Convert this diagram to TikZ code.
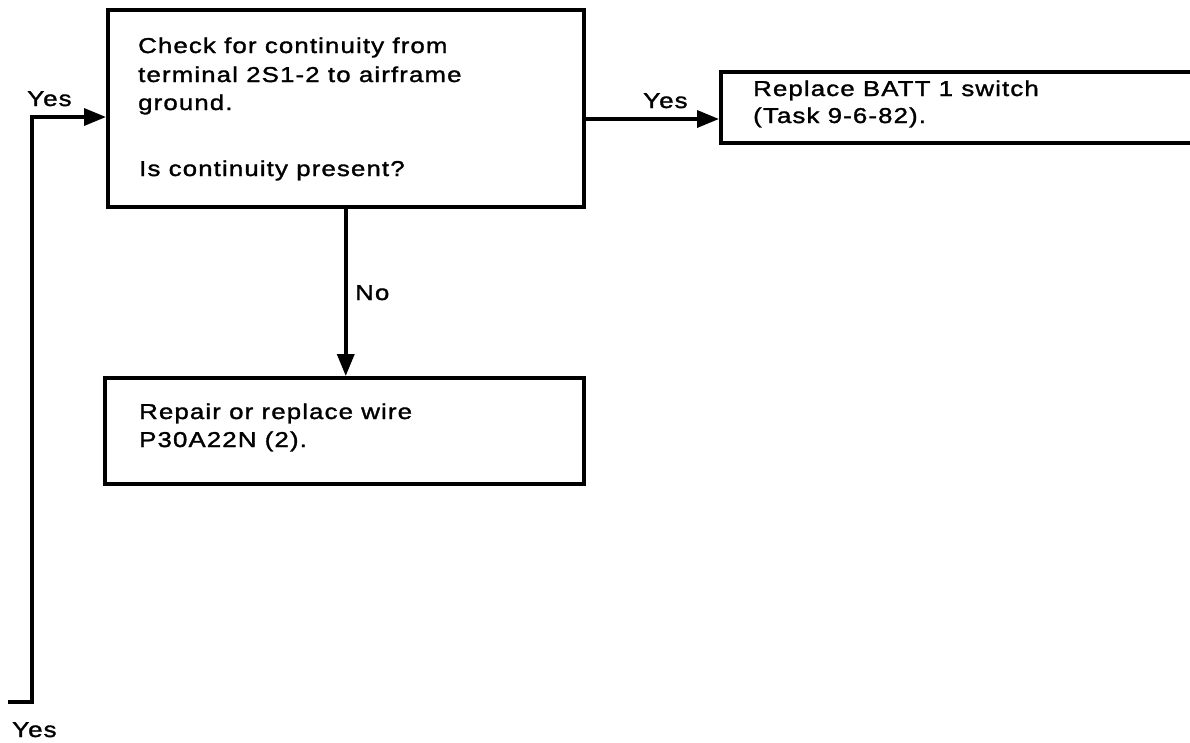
\documentclass[tikz,border=0pt]{standalone}
\usepackage{fontspec}
\setmainfont{Liberation Sans}[FakeStretch=1.2,LetterSpace=5.3,FakeBold=1.5]
\usetikzlibrary{arrows.meta}
\begin{document}
\begin{tikzpicture}[x=1pt,y=-1pt,
  every node/.style={font=\fontsize{21.5}{25}\selectfont},
  boxs/.style={draw, line width=3.5pt, anchor=north west, inner sep=0pt},
  txt/.style={anchor=base west, inner sep=0pt},
  arr/.style={line width=3.5pt, -{Triangle[length=22pt,width=17pt]}}]
\useasboundingbox (0,0) rectangle (1190,742);
% boxes
\node[boxs, minimum width=476pt, minimum height=197pt] (box1) at (106,8) {};
\node[boxs, minimum width=479pt, minimum height=106pt] (box2) at (103,376) {};
\node[boxs, minimum width=486pt, minimum height=71pt] (box3) at (719,70) {};
% texts
\node[txt] (t1a) at (138,53) {Check for continuity from};
\node[txt] (t1b) at (138,82) {terminal 2S1-2 to airframe};
\node[txt] (t1c) at (138,110) {ground.};
\node[txt] (t1d) at (139,176) {Is continuity present?};
\node[txt] (t2a) at (139,419) {Repair or replace wire};
\node[txt] (t2b) at (139,447) {P30A22N (2).};
\node[txt] (t3a) at (753,96) {Replace BATT 1 switch};
\node[txt] (t3b) at (753,123) {(Task 9-6-82).};
% labels
\node[txt] (lyes1) at (27,106) {Yes};
\node[txt] (lyes2) at (643,108) {Yes};
\node[txt] (lyes3) at (12,737) {Yes};
\node[txt] (lno) at (355,300) {No};
% connectors
\coordinate (lstart) at (8,702);
\coordinate (lbend) at (32,117);
\draw[arr] (lstart) -| (lbend) -- (box1.west |- lbend);
\coordinate (ry) at (0,119);
\draw[arr] (box1.east |- ry) -- (box3.west |- ry);
\draw[arr] (box1.south) -- (box1.south |- box2.north);
\end{tikzpicture}
\end{document}
